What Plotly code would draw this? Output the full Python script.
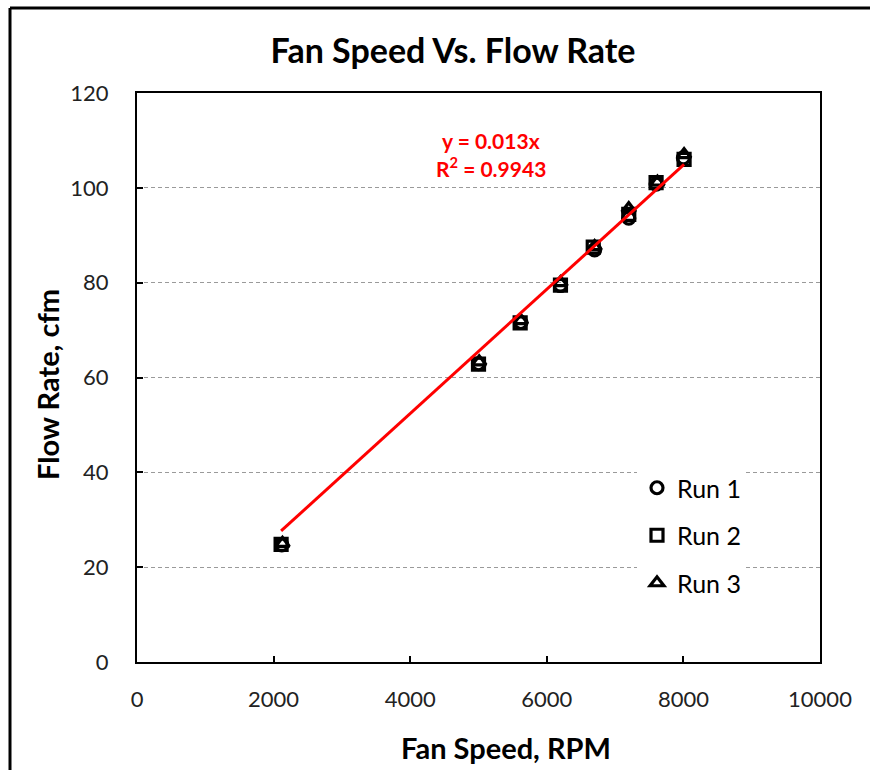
import plotly.graph_objects as go

# Fan speed (RPM) and measured flow rate (cfm) for three runs
run1_rpm = [2120, 5000, 5620, 6200, 6700, 7200, 7600, 8000]
run1_cfm = [24.7, 62.9, 71.6, 79.4, 86.9, 93.6, 100.8, 106.3]

run2_rpm = [2110, 5000, 5610, 6200, 6680, 7200, 7600, 8010]
run2_cfm = [24.8, 62.8, 71.5, 79.5, 87.5, 94.4, 101.1, 106.0]

run3_rpm = [2130, 5010, 5620, 6200, 6700, 7200, 7620, 8010]
run3_cfm = [25.0, 63.3, 72.0, 80.0, 87.6, 95.6, 101.2, 107.0]

run_names = ["Run 1", "Run 2", "Run 3"]

# Linear trend forced through the origin
trend_slope = 0.0131
trend_r2 = 0.9943

x_ticks = [0, 2000, 4000, 6000, 8000, 10000]
x_tick_text = ["0", "2000", "4000", "6000", "8000", "10000"]
y_ticks = [0, 20, 40, 60, 80, 100, 120]

W, H = 870, 770
PL, PR, PT, PB = 137, 820, 93, 662   # plot area edges in pixels
FONT = "Lato"


def px_x(p):
    return (p - PL) / (PR - PL)


def px_y(p):
    return (PB - p) / (PB - PT)


fig = go.Figure()

symbols = ["circle-open", "square-open", "triangle-up-open"]
series = [(run1_rpm, run1_cfm), (run2_rpm, run2_cfm), (run3_rpm, run3_cfm)]
for (xs, ys), name, sym in zip(series, run_names, symbols):
    fig.add_trace(go.Scatter(
        x=xs, y=ys, mode="markers", name=name,
        legendgroup=name,
        marker=dict(symbol=sym, size=12, color="black",
                    line=dict(width=3.2, color="black")),
    ))

all_x = run1_rpm + run2_rpm + run3_rpm
x0, x1 = min(all_x), max(all_x)
fig.add_trace(go.Scatter(
    x=[x0, x1], y=[trend_slope * x0, trend_slope * x1],
    mode="lines", line=dict(color="#ff0000", width=3),
    showlegend=False, hoverinfo="skip",
))

fig.update_layout(
    width=W, height=H,
    margin=dict(l=PL, r=W - PR, t=PT, b=H - PB),
    paper_bgcolor="white", plot_bgcolor="white",
    showlegend=True,
    title=dict(text="Fan Speed Vs. Flow Rate",
               font=dict(family=FONT, size=34, color="black", weight="bold"),
               x=453 / W, xanchor="center", xref="container",
               y=1 - 51 / H, yanchor="middle", yref="container"),
    legend=dict(x=px_x(637), y=px_y(465), xanchor="left", yanchor="top",
                bgcolor="white", borderwidth=0,
                font=dict(family=FONT, size=25, color="black"),
                tracegroupgap=12, traceorder="grouped"),
    font=dict(family=FONT, color="black"),
)

fig.update_xaxes(
    range=[0, 10000], tickvals=x_ticks, ticktext=x_tick_text,
    showgrid=False, zeroline=False,
    showline=True, linecolor="black", linewidth=2, mirror=True,
    ticks="inside", ticklen=6, tickwidth=2, tickcolor="black",
    tickfont=dict(family=FONT, size=22, color="#222"),
    ticklabelstandoff=17,
)
fig.update_yaxes(
    range=[0, 120], tickvals=y_ticks, showgrid=True, gridcolor="#9a9a9a",
    gridwidth=1, griddash="4px,3px", zeroline=False,
    showline=True, linecolor="black", linewidth=2, mirror=True,
    ticks="inside", ticklen=6, tickwidth=2, tickcolor="black",
    tickfont=dict(family=FONT, size=22, color="#222"),
    ticklabelstandoff=22,
)

annotations = [
    dict(text="Flow Rate, cfm", x=px_x(47), y=px_y(385), textangle=-90,
         font=dict(family=FONT, size=29, color="black", weight="bold")),
    dict(text="Fan Speed, RPM", x=px_x(506), y=px_y(747),
         font=dict(family=FONT, size=29, color="black", weight="bold")),
    dict(text=f"y = {trend_slope:.3f}x", x=px_x(491), y=px_y(141),
         font=dict(family=FONT, size=21, color="#ff0000", weight="bold")),
    dict(text=f"R<sup>2</sup> = {trend_r2:.4f}", x=px_x(491), y=px_y(167),
         font=dict(family=FONT, size=21, color="#ff0000", weight="bold")),
]
for a in annotations:
    a.update(xref="paper", yref="paper", showarrow=False,
             xanchor="center", yanchor="middle")
fig.update_layout(annotations=annotations)

# Outer chart frame (left and top edges)
frame = dict(type="line", xref="paper", yref="paper",
             line=dict(color="black", width=3))
fig.add_shape(**frame, x0=px_x(10), y0=px_y(8), x1=px_x(10), y1=px_y(H + 10))
fig.add_shape(**frame, x0=px_x(10), y0=px_y(8), x1=px_x(W + 10), y1=px_y(8))

fig.write_html("out.html")
